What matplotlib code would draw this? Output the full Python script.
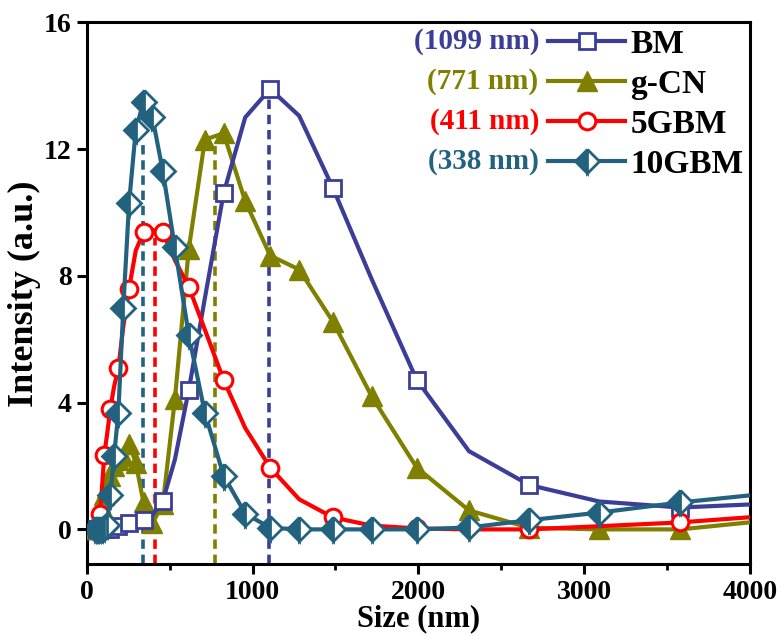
import matplotlib
matplotlib.use("Agg")
import matplotlib.pyplot as plt
from matplotlib.ticker import MultipleLocator

plt.rcParams['font.family'] = 'serif'
plt.rcParams['font.serif'] = ['Liberation Serif', 'DejaVu Serif']
plt.rcParams['font.weight'] = 'bold'
plt.rcParams['axes.labelweight'] = 'bold'

# ---- data ----
size_nm = [50.75, 58.77, 68.06, 78.82, 91.28, 105.7, 122.4, 141.8, 164.2, 190.1,
           220.2, 255.0, 295.3, 342.0, 396.1, 458.7, 531.2, 615.1, 712.4, 825.0,
           955.4, 1106, 1281, 1484, 1718, 1990, 2305, 2669, 3091, 3580, 4145]

bm = [0.0, 0.0, 0.0, 0.0, 0.0, 0.0, 0.0, 0.0, 0.05, 0.1,
      0.15, 0.2, 0.25, 0.3, 0.45, 0.9, 2.2, 4.4, 7.3, 10.6,
      13.0, 13.9, 13.05, 10.78, 7.9, 4.72, 2.47, 1.4, 0.88, 0.69, 0.82]

gcn = [0.0, 0.0, 0.0, 0.3, 0.7, 1.1, 1.3, 1.7, 2.0, 2.2,
       2.3, 2.7, 2.1, 0.85, 0.2, 0.8, 4.1, 8.85, 12.3, 12.5,
       10.36, 8.64, 8.2, 6.56, 4.2, 1.95, 0.6, 0.05, 0.0, 0.0, 0.3]

gbm5 = [0.0, 0.05, 0.1, 0.48, 1.3, 2.36, 3.0, 3.8, 4.5, 5.08,
        6.4, 7.6, 8.8, 9.37, 9.45, 9.37, 8.5, 7.65, 6.3, 4.72,
        3.2, 1.95, 0.95, 0.38, 0.12, 0.03, 0.0, 0.0, 0.1, 0.22, 0.44]

gbm10 = [0.0, 0.0, 0.0, 0.0, 0.0, 0.05, 0.15, 1.1, 2.3, 3.67,
         7.0, 10.3, 12.6, 13.5, 13.0, 11.3, 8.9, 6.13, 3.67, 1.7,
         0.5, 0.05, 0.0, 0.0, 0.0, 0.0, 0.06, 0.29, 0.53, 0.85, 1.15]

names = ['BM', 'g-CN', '5GBM', '10GBM']
peak_nm = [1099, 771, 411, 338]
peak_top = [13.9, 12.1, 9.2, 12.3]
colors = ['#3B3D97', '#808000', '#FF0000', '#22627F']

fig = plt.figure(figsize=(7.82, 6.39), dpi=100)
ax = fig.add_axes([0.111, 0.117, 0.848, 0.848])

lw = 3.0
ax.plot(size_nm, gcn, color=colors[1], lw=lw, marker='^', ms=14,
        mfc=colors[1], mec=colors[1], zorder=3, label=names[1])
ax.plot(size_nm, bm, color=colors[0], lw=lw, marker='s', ms=11, mfc='white',
        mec=colors[0], mew=2, markevery=slice(1, None, 2), zorder=4, label=names[0])
ax.plot(size_nm, gbm5, color=colors[2], lw=lw, marker='o', ms=12, mfc='white',
        mec=colors[2], mew=2.2, markevery=slice(1, None, 2), zorder=5, label=names[2])
ax.plot(size_nm, gbm10, color=colors[3], lw=lw, marker='D', ms=12,
        fillstyle='left', mfc=colors[3], mfcalt='white', mec=colors[3], mew=2,
        zorder=6, label=names[3])

ymin = -1.1
for x, top, c in zip(peak_nm, peak_top, colors):
    ax.vlines(x, ymin, top, colors=c, linestyles=(0, (2.6, 1.6)), lw=2.6, zorder=2)

ax.set_xlim(0, 4000)
ax.set_ylim(ymin, 16)
ax.xaxis.set_major_locator(MultipleLocator(1000))
ax.xaxis.set_minor_locator(MultipleLocator(500))
ax.yaxis.set_major_locator(MultipleLocator(4))
ax.tick_params(axis='both', which='major', direction='out', length=7, width=2.2,
               labelsize=20, pad=4)
ax.tick_params(axis='x', which='minor', direction='out', length=4, width=2.0)
for s in ax.spines.values():
    s.set_linewidth(2.2)
for lab in ax.get_xticklabels() + ax.get_yticklabels():
    lab.set_fontweight('bold')

ax.set_xlabel('Size (nm)', fontsize=22, fontweight='bold', labelpad=0)
ax.set_ylabel('Intensity (a.u.)', fontsize=26, fontweight='bold', labelpad=2)

handles, labels = ax.get_legend_handles_labels()
order = [labels.index(n) for n in names]
leg = ax.legend([handles[i] for i in order], [labels[i] for i in order],
                loc='upper right', bbox_to_anchor=(1.0, 1.0), frameon=False,
                prop={'family': 'serif', 'weight': 'bold', 'size': 24},
                handlelength=2.3, handletextpad=0.15, labelspacing=0.27,
                borderaxespad=0.0, borderpad=0.2)

# peak sizes written to the left of each legend handle
fig.canvas.draw()
inv = ax.transAxes.inverted()
for line, nm, c in zip(leg.get_lines(), peak_nm, colors):
    bb = line.get_window_extent()
    x0, y0 = inv.transform((bb.x0 - 1, (bb.y0 + bb.y1) / 2))
    ax.text(x0, y0, f'({nm} nm)', transform=ax.transAxes, ha='right', va='center',
            color=c, fontsize=21, fontweight='bold', zorder=10)

fig.savefig('out.png', dpi=100, facecolor='white')
